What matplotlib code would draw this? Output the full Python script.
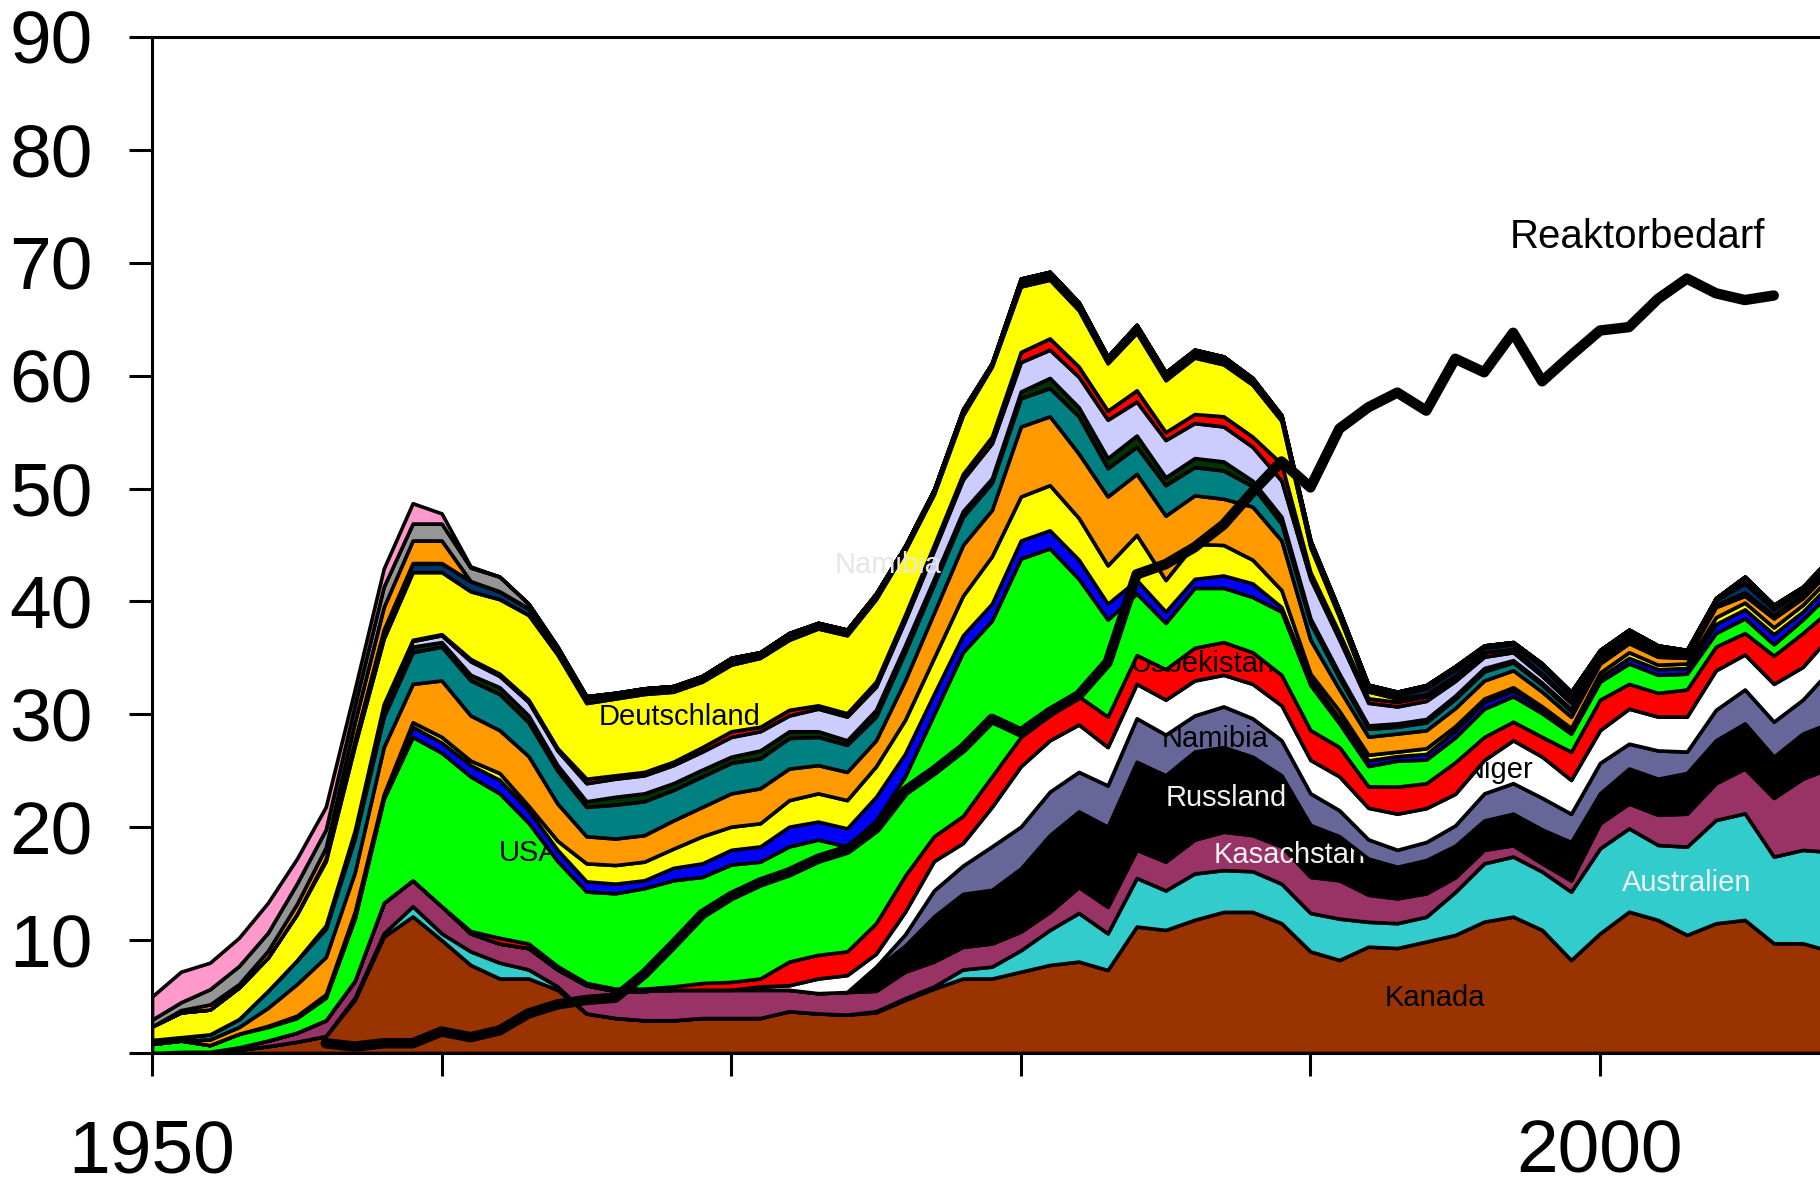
import matplotlib
matplotlib.use("Agg")
import matplotlib.pyplot as plt

plt.rcParams['font.family'] = ['Liberation Sans', 'DejaVu Sans']

years = list(range(1950, 2009))

kanada = [0, 0.1, 0.1, 0.3, 0.6, 1.0, 1.5, 4.7, 10.3, 12.1,
          10.0, 7.8, 6.6, 6.6, 5.6, 3.5, 3.1, 2.9, 2.9, 3.1,
          3.1, 3.1, 3.7, 3.5, 3.4, 3.6, 4.7, 5.7, 6.6, 6.6,
          7.2, 7.8, 8.1, 7.35, 11.2, 10.9, 11.8, 12.5, 12.5, 11.5,
          9.0, 8.24, 9.42, 9.3, 9.87, 10.46, 11.64, 12.08, 10.9, 8.24,
          10.6, 12.52, 11.79, 10.46, 11.49, 11.79, 9.72, 9.72, 9.0]
australien = [0, 0, 0, 0, 0, 0, 0, 0.2, 0.3, 0.9,
              0.6, 1.2, 1.4, 0.8, 0.3, 0, 0, 0, 0, 0,
              0, 0, 0, 0, 0, 0.1, 0.15, 0.2, 0.8, 1.05,
              1.9, 3.1, 4.3, 3.25, 4.3, 3.5, 4.1, 3.7, 3.6, 3.5,
              3.4, 3.66, 2.2, 2.2, 2.2, 3.8, 5.16, 5.32, 5.17, 6.05,
              7.53, 7.38, 6.64, 7.82, 9.15, 9.44, 7.68, 8.27, 8.8]
kasachstan = [0, 0, 0, 0.2, 0.5, 0.8, 1.4, 1.5, 2.7, 2.3,
              2.4, 1.6, 1.7, 1.9, 1.5, 2.5, 2.4, 2.6, 2.7, 2.5,
              2.5, 2.5, 1.9, 1.8, 2.0, 1.8, 2.35, 2.2, 2.0, 2.05,
              1.65, 1.6, 2.3, 2.35, 2.5, 2.55, 3.0, 3.4, 3.2, 3.3,
              3.2, 3.4, 2.4, 2.2, 2.07, 1.3, 1.2, 1.0, 0.73, 1.0,
              2.22, 2.2, 2.67, 2.92, 3.26, 3.97, 5.2, 6.31, 7.5]
russland = [0, 0, 0, 0, 0, 0, 0, 0, 0, 0,
            0, 0, 0, 0, 0, 0, 0, 0, 0, 0,
            0, 0, 0, 0, 0, 2.0, 2.3, 4.0, 4.7, 4.75,
            5.6, 6.8, 6.7, 7.1, 7.8, 7.65, 7.8, 7.5, 6.95, 6.3,
            4.6, 3.9, 3.2, 2.8, 2.95, 2.8, 2.6, 2.8, 3.0, 3.4,
            2.65, 3.1, 3.2, 3.6, 3.8, 4.0, 3.65, 4.0, 4.0]
namibia = [0, 0, 0, 0, 0, 0, 0, 0, 0, 0,
           0, 0, 0, 0, 0, 0, 0, 0, 0, 0,
           0, 0, 0, 0, 0, 0.15, 1.0, 2.3, 2.5, 3.85,
           3.7, 3.85, 3.5, 3.65, 3.85, 3.6, 3.2, 3.6, 3.4, 3.1,
           2.8, 2.3, 1.7, 1.5, 1.6, 1.8, 2.4, 2.7, 2.8, 2.5,
           2.7, 2.2, 2.5, 1.9, 2.7, 3.0, 3.1, 3.0, 4.8]
niger = [0, 0, 0, 0, 0, 0, 0, 0, 0, 0,
         0, 0, 0, 0, 0, 0, 0, 0, 0, 0,
         0, 0.3, 0.4, 1.3, 1.5, 1.15, 2.0, 2.6, 2.0, 3.5,
         5.35, 4.55, 4.2, 3.4, 3.05, 3.1, 3.1, 2.8, 3.05, 3.1,
         2.96, 3.0, 2.8, 3.2, 3.0, 2.8, 2.96, 3.8, 3.65, 3.0,
         2.9, 3.1, 3.0, 3.1, 3.5, 3.1, 3.35, 2.9, 3.0]
usbekistan = [0, 0, 0, 0, 0, 0, 0, 0, 0, 0,
              0, 0.2, 0.5, 0.4, 0.3, 0.2, 0.2, 0.2, 0.3, 0.6,
              0.7, 0.7, 2.1, 2.1, 2.1, 2.7, 3.2, 2.2, 2.4, 2.7,
              2.6, 2.2, 2.5, 2.7, 2.55, 2.7, 2.9, 2.9, 2.8, 2.7,
              2.64, 2.6, 1.9, 2.4, 2.2, 2.8, 2.04, 1.65, 1.75, 2.5,
              2.7, 2.2, 2.1, 2.4, 2.1, 1.9, 2.5, 3.0, 2.3]
usa = [0.8, 1.0, 0.6, 1.2, 1.2, 1.3, 2.0, 5.5, 9.2, 12.7,
       13.6, 13.7, 12.8, 10.7, 9.3, 8.1, 8.45, 8.9, 9.4, 9.4,
       10.4, 10.35, 10.2, 10.2, 9.3, 9.1, 8.8, 10.8, 14.5, 13.8,
       15.8, 14.8, 10.4, 8.6, 5.45, 4.1, 5.3, 4.8, 4.9, 5.6,
       4.0, 2.1, 1.8, 2.3, 2.1, 2.2, 2.5, 2.25, 2.1, 1.6,
       1.6, 1.8, 1.6, 1.4, 1.2, 1.3, 1.0, 1.2, 1.5]
blau = [0, 0, 0, 0, 0.1, 0.2, 0.2, 0.4, 0.3, 0.9,
        0.9, 1.0, 1.2, 1.1, 1.0, 0.9, 0.85, 0.7, 1.1, 1.2,
        1.3, 1.35, 1.75, 1.6, 1.6, 2.1, 2.0, 1.8, 1.5, 1.5,
        1.6, 1.6, 1.7, 1.4, 1.2, 1.0, 0.8, 1.1, 1.2, 0.4,
        0.5, 0.5, 0.5, 0.4, 0.5, 0.6, 0.6, 0.5, 0.4, 0.3,
        0.4, 0.5, 0.5, 0.5, 0.8, 0.8, 0.9, 0.7, 0.8]
gelb = [0, 0, 0, 0, 0, 0, 0.1, 0.2, 0.1, 0.4,
        0.5, 0.4, 0.6, 0.4, 0.8, 1.6, 1.65, 1.65, 1.7, 2.4,
        2.05, 2.05, 2.35, 2.5, 2.5, 2.7, 3.0, 3.2, 3.5, 4.2,
        3.9, 4.0, 3.7, 3.4, 4.0, 2.8, 3.1, 2.7, 2.1, 1.5,
        0.5, 0.6, 0.5, 0.4, 0.5, 0.4, 0.3, 0.3, 0.2, 0.2,
        0.4, 0.5, 0.4, 0.4, 0.6, 0.6, 0.6, 0.6, 0.6]
orange = [0, 0, 0.5, 0.6, 1.6, 2.8, 3.3, 3.5, 4.2, 3.4,
          5.0, 4.0, 3.8, 4.4, 3.3, 2.4, 2.35, 2.35, 2.5, 2.6,
          2.95, 3.1, 2.8, 2.5, 2.5, 2.3, 3.5, 4.0, 4.5, 4.1,
          6.2, 6.1, 5.7, 6.1, 5.4, 5.7, 4.3, 4.1, 4.7, 4.4,
          3.0, 1.9, 1.6, 1.6, 1.6, 1.6, 1.6, 1.5, 1.3, 1.0,
          0.8, 0.8, 0.7, 0.5, 0.9, 0.6, 0.8, 0.6, 0.6]
petrol = [0.35, 0.3, 0.45, 0.7, 1.5, 2.1, 2.5, 3.0, 2.7, 2.8,
          3.0, 3.1, 3.2, 3.0, 2.9, 2.6, 3.0, 3.0, 2.7, 2.7,
          2.7, 2.65, 2.7, 2.5, 2.4, 2.1, 2.5, 2.5, 2.5, 2.4,
          2.5, 2.5, 3.3, 2.5, 2.4, 2.7, 2.5, 2.5, 1.8, 1.5,
          1.5, 1.0, 0.7, 0.6, 0.7, 0.8, 0.8, 0.7, 0.6, 0.5,
          0.3, 0.3, 0.3, 0.2, 0.2, 0.3, 0.3, 0.3, 0.3]
dunkelgruen = [0, 0, 0, 0, 0, 0, 0.2, 0.4, 0.6, 0.5,
               0.4, 0.5, 0.6, 0.6, 0.5, 0.5, 0.7, 0.7, 0.6, 0.6,
               0.55, 0.7, 0.6, 0.5, 0.4, 0.6, 0.6, 0.5, 0.5, 0.4,
               0.6, 0.9, 0.8, 0.9, 1.0, 0.7, 0.8, 0.8, 0.5, 0.6,
               0.4, 0.4, 0.3, 0.3, 0.3, 0.3, 0.3, 0.2, 0.2, 0.2,
               0.1, 0, 0, 0, 0, 0, 0, 0, 0]
lavendel = [0, 0, 0, 0, 0, 0, 0.1, 0.3, 0.5, 0.5,
            0.6, 1.2, 1.0, 1.2, 1.3, 1.6, 1.6, 1.6, 1.6, 1.6,
            1.75, 1.7, 1.4, 2.0, 2.1, 2.05, 2.2, 2.5, 2.8, 3.1,
            2.6, 2.5, 2.7, 3.4, 3.0, 3.3, 3.1, 3.1, 3.0, 3.2,
            3.5, 3.0, 2.0, 1.5, 1.6, 1.3, 1.0, 0.7, 0.6, 0.5,
            0.2, 0.3, 0.2, 0, 0, 0, 0, 0, 0]
rot = [0, 0, 0, 0, 0, 0, 0, 0, 0, 0.1,
       0.1, 0.2, 0.2, 0.2, 0.2, 0.4, 0.3, 0.3, 0.3, 0.4,
       0.5, 0.4, 0.5, 0.3, 0.3, 0.45, 0.5, 0.5, 0.5, 0.6,
       0.9, 1.0, 0.9, 0.8, 1.0, 0.7, 0.8, 0.9, 0.9, 1.5,
       0.6, 0.6, 0.4, 0.4, 0.4, 0.4, 0.4, 0.3, 0.2, 0.2,
       0.1, 0, 0, 0, 0, 0, 0, 0, 0]
deutschland = [1.2, 2.2, 2.2, 2.8, 2.95, 4.1, 5.7, 7.5, 5.8, 6.0,
               5.5, 6.0, 6.6, 7.5, 8.3, 6.7, 6.8, 6.9, 6.2, 5.8,
               5.9, 6.1, 6.2, 6.8, 6.9, 7.3, 5.7, 4.5, 5.2, 6.2,
               5.8, 5.2, 5.0, 4.2, 5.1, 4.6, 5.0, 4.6, 4.6, 3.8,
               2.2, 1.4, 0.6, 0.3, 0.2, 0.1, 0, 0, 0, 0,
               0, 0, 0, 0, 0, 0, 0, 0, 0]
dunkelblau = [0, 0, 0, 0, 0, 0, 0.2, 0.5, 0.8, 0.8,
              0.8, 0.9, 0.7, 0.6, 0.5, 0.4, 0.3, 0.3, 0.3, 0.3,
              0.4, 0.3, 0.4, 0.3, 0.3, 0.3, 0.3, 0.3, 0.3, 0.2,
              0.3, 0.3, 0.3, 0.3, 0.3, 0.3, 0.3, 0.3, 0.3, 0.3,
              0.3, 0.3, 0.3, 0.3, 0.5, 0.5, 0.4, 0.4, 0.6, 0.5,
              0.3, 0.4, 0.3, 0.3, 0.4, 0.8, 0.5, 0.4, 0.5]
hellblau = [0, 0, 0, 0, 0, 0, 0, 0, 0, 0,
            0, 0, 0, 0, 0, 0.2, 0.2, 0.2, 0.2, 0.2,
            0.2, 0.2, 0.2, 0.2, 0.2, 0.2, 0.1, 0.1, 0.2, 0.1,
            0.2, 0.2, 0.2, 0.2, 0.2, 0.2, 0.2, 0.2, 0.2, 0.1,
            0.2, 0.2, 0.2, 0.2, 0.2, 0.2, 0.1, 0.1, 0.2, 0.2,
            0.1, 0.1, 0.1, 0.1, 0.1, 0.3, 0.2, 0.2, 0.2]
orange_2 = [0, 0.2, 0.45, 0.3, 0.6, 0.9, 1.0, 1.6, 2.0, 2.0,
            2.0, 0, 0, 0, 0, 0, 0, 0, 0, 0,
            0, 0, 0, 0, 0, 0, 0, 0, 0, 0,
            0.2, 0.2, 0.2, 0.1, 0.2, 0.2, 0.2, 0.2, 0.1, 0.1,
            0.1, 0.1, 0.1, 0.1, 0.1, 0.1, 0.1, 0.1, 0.1, 0.1,
            0.1, 0.1, 0.1, 0.1, 0.1, 0.3, 0.2, 0.1, 0.1]
grau = [0.6, 0.7, 1.35, 1.6, 1.6, 1.8, 1.6, 1.5, 1.8, 1.5,
        1.5, 1.2, 1.3, 0.4, 0.2, 0, 0, 0, 0, 0,
        0, 0, 0, 0, 0, 0, 0, 0, 0, 0,
        0, 0, 0, 0, 0, 0, 0, 0, 0, 0,
        0, 0, 0, 0, 0, 0, 0, 0, 0, 0,
        0, 0, 0, 0, 0, 0, 0, 0, 0]
rosa = [2.05, 2.7, 2.35, 2.5, 2.65, 2.2, 2.0, 1.4, 1.6, 1.8,
        0.9, 0.1, 0, 0, 0, 0, 0, 0, 0, 0,
        0, 0, 0, 0, 0, 0, 0, 0, 0, 0,
        0, 0, 0, 0, 0, 0, 0, 0, 0, 0,
        0, 0, 0, 0, 0, 0, 0, 0, 0, 0,
        0, 0, 0, 0, 0, 0, 0, 0, 0]

bedarf_jahre = list(range(1956, 2007))
reaktorbedarf = [0.86, 0.57, 0.86, 0.86, 1.9, 1.4, 2.0, 3.5, 4.3, 4.7,
                 4.9, 7.0, 9.6, 12.3, 13.9, 15.1, 16.0, 17.2, 18.0, 19.9,
                 23.2, 25.0, 27.0, 29.6, 28.4, 30.2, 31.7, 34.6, 42.4, 43.3,
                 44.8, 46.8, 49.7, 52.4, 50.1, 55.3, 57.2, 58.5, 56.9, 61.5,
                 60.3, 63.8, 59.5, 61.8, 64.0, 64.3, 66.8, 68.6, 67.3, 66.7,
                 67.1]

layers = [kanada, australien, kasachstan, russland, namibia, niger, usbekistan,
          usa, blau, gelb, orange, petrol, dunkelgruen, lavendel, rot,
          deutschland, dunkelblau, hellblau, orange_2, grau, rosa]
farben = ['#993300', '#33CCCC', '#993366', '#000000', '#666699', '#FFFFFF',
          '#FF0000', '#00FF00', '#0000FF', '#FFFF00', '#FF9900', '#008080',
          '#003300', '#CCCCFF', '#FF0000', '#FFFF00', '#003366', '#33CCFF',
          '#FF9900', '#969696', '#FF99CC']

# labels: text, x, y, colour, drawn just above layer index
beschriftungen = [("Kanada", 1994.3, 4.9, 'black', 0),
                  ("Australien", 2003.0, 15.1, '#F0F0F0', 1),
                  ("Kasachstan", 1989.3, 17.5, '#F0F0F0', 3),
                  ("Russland", 1987.1, 22.6, '#F0F0F0', 3),
                  ("Namibia", 1986.7, 27.8, 'black', 4),
                  ("Niger", 1996.5, 25.1, 'black', 5),
                  ("Usbekistan", 1986.3, 34.5, 'black', 6),
                  ("USA", 1963.0, 17.7, 'black', 7),
                  ("Deutschland", 1968.2, 29.8, 'black', 15),
                  ("Namibia", 1975.4, 43.2, '#E6E6E6', 21)]

W, H = 1820, 1192
fig = plt.figure(figsize=(W / 100, H / 100), dpi=100)
x0, x1 = 152, 152 + 60 * 28.96
y0, y1 = 1053, 37
ax = fig.add_axes([x0 / W, 1 - y0 / H, (x1 - x0) / W, (y0 - y1) / H])

polys = ax.stackplot(years, *layers, colors=farben, edgecolor='black',
                     linewidth=2.6)
for i, p in enumerate(polys):
    p.set_zorder(2 + i)
    p.set_joinstyle('round')

for txt, xx, yy, col, li in beschriftungen:
    ax.text(xx, yy, txt, color=col, fontsize=21, ha='center', va='center',
            zorder=2.5 + li)

ax.plot(bedarf_jahre, reaktorbedarf, color='black', lw=7.5,
        solid_capstyle='round', solid_joinstyle='round', zorder=35)
ax.text(2001.3, 72.3, "Reaktorbedarf", fontsize=29, ha='center',
        va='center', zorder=36)

ax.set_xlim(1950, 2010)
ax.set_ylim(0, 90)
ax.set_yticks(range(0, 91, 10))
ax.set_yticklabels([''] + [str(v) for v in range(10, 91, 10)])
ax.set_xticks(range(1950, 2011, 10))
ax.set_xticklabels(['1950', '', '', '', '', '2000', ''])
ax.tick_params(axis='both', direction='out', length=16.5, width=2.2,
               labelsize=54)
ax.tick_params(axis='y', pad=26)
ax.tick_params(axis='x', pad=31)
for s in ax.spines.values():
    s.set_linewidth(2.2)
    s.set_zorder(50)

fig.savefig('out.png', dpi=100)
